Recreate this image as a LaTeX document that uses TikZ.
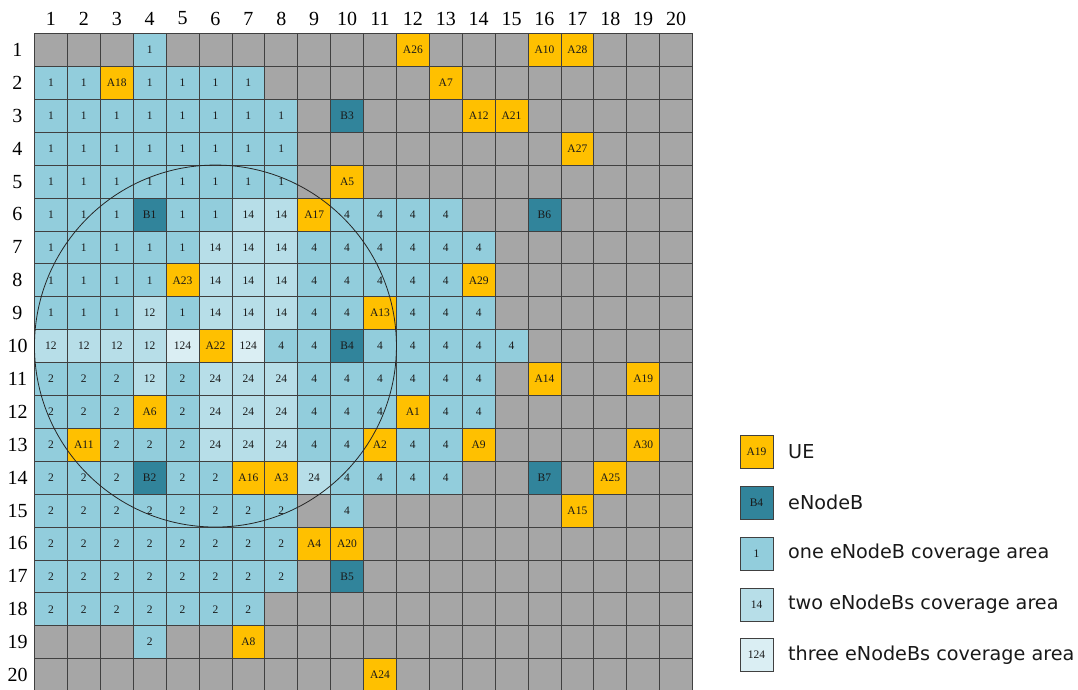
\documentclass[tikz,border=0pt]{standalone}
\usepackage{fontspec}
\setmainfont{Liberation Serif}
\newfontfamily\legfont{DejaVu Sans}
\definecolor{colGray}{HTML}{A6A6A6}
\definecolor{colUE}{HTML}{FFC000}
\definecolor{colEnb}{HTML}{31849B}
\definecolor{colOne}{HTML}{92CDDC}
\definecolor{colTwo}{HTML}{B7DEE8}
\definecolor{colThree}{HTML}{DAEEF3}
\newcommand\mkrow[2]{%
  \foreach \t/\l [count=\c] in {#2} {%
    \node[cell,\t] (c#1-\c) at ({34.5+(\c-0.5)*32.9},{33.5+(#1-0.5)*32.9}) {\l};
  }}
\begin{document}
\begin{tikzpicture}[x=1pt,y=-1pt,
  cell/.style={draw=black!75, line width=0.7pt, minimum size=32.9pt, inner sep=0pt,
    font=\fontsize{11.5}{11.5}\selectfont, text=black!90},
  gy/.style={fill=colGray},
  ue/.style={fill=colUE},
  en/.style={fill=colEnb},
  bA/.style={fill=colOne},
  bB/.style={fill=colTwo},
  bC/.style={fill=colThree},
  lab/.style={font=\fontsize{20}{20}\selectfont, inner sep=0pt},
  legtext/.style={font=\legfont\fontsize{19.2}{19.2}\selectfont, anchor=west, inner sep=0pt, text=black!90}]
\useasboundingbox (0,0) rectangle (1078,690);
\fill[white] (0,0) rectangle (1078,690);
\mkrow{1}{gy/,gy/,gy/,bA/1,gy/,gy/,gy/,gy/,gy/,gy/,gy/,ue/A26,gy/,gy/,gy/,ue/A10,ue/A28,gy/,gy/,gy/}
\mkrow{2}{bA/1,bA/1,ue/A18,bA/1,bA/1,bA/1,bA/1,gy/,gy/,gy/,gy/,gy/,ue/A7,gy/,gy/,gy/,gy/,gy/,gy/,gy/}
\mkrow{3}{bA/1,bA/1,bA/1,bA/1,bA/1,bA/1,bA/1,bA/1,gy/,en/B3,gy/,gy/,gy/,ue/A12,ue/A21,gy/,gy/,gy/,gy/,gy/}
\mkrow{4}{bA/1,bA/1,bA/1,bA/1,bA/1,bA/1,bA/1,bA/1,gy/,gy/,gy/,gy/,gy/,gy/,gy/,gy/,ue/A27,gy/,gy/,gy/}
\mkrow{5}{bA/1,bA/1,bA/1,bA/1,bA/1,bA/1,bA/1,bA/1,gy/,ue/A5,gy/,gy/,gy/,gy/,gy/,gy/,gy/,gy/,gy/,gy/}
\mkrow{6}{bA/1,bA/1,bA/1,en/B1,bA/1,bA/1,bB/14,bB/14,ue/A17,bA/4,bA/4,bA/4,bA/4,gy/,gy/,en/B6,gy/,gy/,gy/,gy/}
\mkrow{7}{bA/1,bA/1,bA/1,bA/1,bA/1,bB/14,bB/14,bB/14,bA/4,bA/4,bA/4,bA/4,bA/4,bA/4,gy/,gy/,gy/,gy/,gy/,gy/}
\mkrow{8}{bA/1,bA/1,bA/1,bA/1,ue/A23,bB/14,bB/14,bB/14,bA/4,bA/4,bA/4,bA/4,bA/4,ue/A29,gy/,gy/,gy/,gy/,gy/,gy/}
\mkrow{9}{bA/1,bA/1,bA/1,bB/12,bA/1,bB/14,bB/14,bB/14,bA/4,bA/4,ue/A13,bA/4,bA/4,bA/4,gy/,gy/,gy/,gy/,gy/,gy/}
\mkrow{10}{bB/12,bB/12,bB/12,bB/12,bC/124,ue/A22,bC/124,bA/4,bA/4,en/B4,bA/4,bA/4,bA/4,bA/4,bA/4,gy/,gy/,gy/,gy/,gy/}
\mkrow{11}{bA/2,bA/2,bA/2,bB/12,bA/2,bB/24,bB/24,bB/24,bA/4,bA/4,bA/4,bA/4,bA/4,bA/4,gy/,ue/A14,gy/,gy/,ue/A19,gy/}
\mkrow{12}{bA/2,bA/2,bA/2,ue/A6,bA/2,bB/24,bB/24,bB/24,bA/4,bA/4,bA/4,ue/A1,bA/4,bA/4,gy/,gy/,gy/,gy/,gy/,gy/}
\mkrow{13}{bA/2,ue/A11,bA/2,bA/2,bA/2,bB/24,bB/24,bB/24,bA/4,bA/4,ue/A2,bA/4,bA/4,ue/A9,gy/,gy/,gy/,gy/,ue/A30,gy/}
\mkrow{14}{bA/2,bA/2,bA/2,en/B2,bA/2,bA/2,ue/A16,ue/A3,bB/24,bA/4,bA/4,bA/4,bA/4,gy/,gy/,en/B7,gy/,ue/A25,gy/,gy/}
\mkrow{15}{bA/2,bA/2,bA/2,bA/2,bA/2,bA/2,bA/2,bA/2,gy/,bA/4,gy/,gy/,gy/,gy/,gy/,gy/,ue/A15,gy/,gy/,gy/}
\mkrow{16}{bA/2,bA/2,bA/2,bA/2,bA/2,bA/2,bA/2,bA/2,ue/A4,ue/A20,gy/,gy/,gy/,gy/,gy/,gy/,gy/,gy/,gy/,gy/}
\mkrow{17}{bA/2,bA/2,bA/2,bA/2,bA/2,bA/2,bA/2,bA/2,gy/,en/B5,gy/,gy/,gy/,gy/,gy/,gy/,gy/,gy/,gy/,gy/}
\mkrow{18}{bA/2,bA/2,bA/2,bA/2,bA/2,bA/2,bA/2,gy/,gy/,gy/,gy/,gy/,gy/,gy/,gy/,gy/,gy/,gy/,gy/,gy/}
\mkrow{19}{gy/,gy/,gy/,bA/2,gy/,gy/,ue/A8,gy/,gy/,gy/,gy/,gy/,gy/,gy/,gy/,gy/,gy/,gy/,gy/,gy/}
\mkrow{20}{gy/,gy/,gy/,gy/,gy/,gy/,gy/,gy/,gy/,gy/,ue/A24,gy/,gy/,gy/,gy/,gy/,gy/,gy/,gy/,gy/}
% coverage circle
\draw[black!85, line width=0.8pt] (c10-6.center) circle[radius=181pt];
% axis labels
\foreach \c in {1,...,20} {
  \node[lab] (col\c) at ({34.5+(\c-0.5)*32.9},18.5) {\c};
  \node[lab] (row\c) at (17.5,{33.5+(\c-0.5)*32.9}) {\c};
}
% legend
\node[cell,ue] (lg1) at (756.5,451.5) {A19};
\node[cell,en] (lg2) at (756.5,502.5) {B4};
\node[cell,bA] (lg3) at (756.5,553.5) {1};
\node[cell,bB] (lg4) at (756.5,604.5) {14};
\node[cell,bC] (lg5) at (756.5,655) {124};
\node[legtext] (lt1) at (788,451.5) {UE};
\node[legtext] (lt2) at (788,502.5) {eNodeB};
\node[legtext] (lt3) at (788,553.5) {one eNodeB coverage area};
\node[legtext] (lt4) at (788,604.5) {two eNodeBs coverage area};
\node[legtext] (lt5) at (788,655) {three eNodeBs coverage area};
\end{tikzpicture}
\end{document}
